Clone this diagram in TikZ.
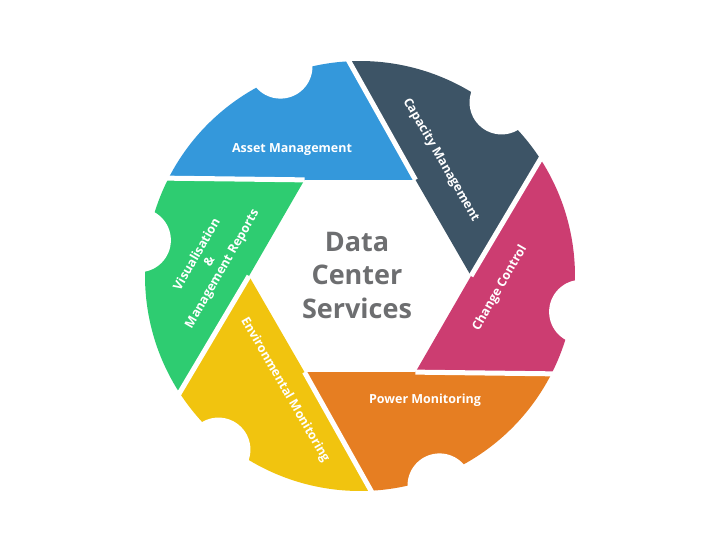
\documentclass[tikz,border=0pt]{standalone}
\usepackage{fontspec}
\setmainfont{Open Sans}
\definecolor{cdark}{HTML}{3D5466}
\definecolor{cblue}{HTML}{3498DB}
\definecolor{cgreen}{HTML}{2ECC71}
\definecolor{cyellow}{HTML}{F1C40F}
\definecolor{corange}{HTML}{E67E22}
\definecolor{cpink}{HTML}{CC3D71}
\definecolor{cgray}{HTML}{6D6E70}
\begin{document}
\begin{tikzpicture}[x=1pt,y=1pt,
  lbl/.style={text=white,font=\bfseries\fontsize{12.5}{14.5}\selectfont,align=center,inner sep=0pt},
  sep/.style={draw=white,line width=5pt}]
\def\hr{111}
\def\cR{215}
\useasboundingbox (-360,-279) rectangle (360,276);
\foreach \k/\col in {0/cdark,1/cblue,2/cgreen,3/cyellow,4/corange,5/cpink}{
  \fill[\col] (60*\k:\hr) -- (60*\k+33.45:\cR)
     arc[start angle=60*\k+33.45, end angle=60*\k+93.45, radius=\cR]
     -- (60*\k+60:\hr) -- cycle;
  \fill[white] (60*\k+50.8:\cR+9) circle[radius=32];
}
\foreach \k in {0,...,5}{
  \draw[sep] (60*\k:\hr) -- (60*\k+33.45:\cR+4);
}
\node[lbl] (asset) at (-68,126) {Asset Management};
\node[lbl,rotate=-60] (capacity) at (81,116) {Capacity Management};
\node[lbl,rotate=60] (change) at (140,-12) {Change Control};
\node[lbl] (power) at (65,-124) {Power Monitoring};
\node[lbl,rotate=-60] (env) at (-75,-114) {Environmental Monitoring};
\node[lbl,rotate=60] (vis) at (-150,14) {Visualisation\\\&\\Management Reports};
\node[text=cgray,font=\bfseries\fontsize{27}{33.5}\selectfont,align=center] (center) at (-3,1) {Data\\Center\\Services};
\end{tikzpicture}
\end{document}
